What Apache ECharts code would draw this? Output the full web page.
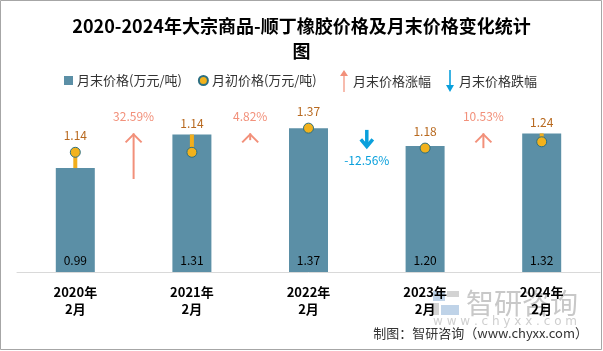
<!DOCTYPE html>
<html>
<head>
<meta charset="utf-8">
<script src="https://cdn.jsdelivr.net/npm/echarts@6/dist/echarts.min.js"></script>
<style>
  html, body { margin: 0; padding: 0; background: #fff; }
  #chartmain { width: 603px; height: 351px; }
</style>
</head>
<body>
<div id="chartmain"></div>
<script>
var categories = ['2020年\n2月', '2021年\n2月', '2022年\n2月', '2023年\n2月', '2024年\n2月'];
var endPrices = [0.99, 1.31, 1.37, 1.20, 1.32];     // 月末价格(万元/吨)
var startPrices = [1.14, 1.14, 1.37, 1.18, 1.24];   // 月初价格(万元/吨)
var changeRates = [32.59, 4.82, -12.56, 10.53];     // 月末价格涨跌幅(%), between year i and i+1

var FONT = '"Noto Sans CJK SC", "Microsoft YaHei", sans-serif';
var BAR_COLOR = '#5B8FA6';
var UP_COLOR = '#F2907A';
var DOWN_COLOR = '#0AA0DC';
var UP_ANCHOR = 99;     // pct axis level where rising arrows end
var DOWN_ANCHOR = 101.5; // pct axis level where falling arrows start

var upData = [];
var downData = [];
changeRates.forEach(function (r, i) {
    if (r >= 0) upData.push([i, r]); else downData.push([i, r]);
});
var dropData = startPrices.map(function (v, i) { return [i, v, endPrices[i]]; });

function midX(api, i) {
    return (api.coord([i, 0])[0] + api.coord([i + 1, 0])[0]) / 2;
}

function renderUp(params, api) {
    var i = api.value(0), r = api.value(1);
    var x = midX(api, i);
    var top = api.coord([i, UP_ANCHOR])[1];
    var bottom = api.coord([i, UP_ANCHOR - r])[1];
    var st = { stroke: UP_COLOR, lineWidth: 2, fill: null };
    return {
        type: 'group',
        children: [
            { type: 'line', shape: { x1: x, y1: bottom, x2: x, y2: top }, style: st },
            { type: 'polyline', shape: { points: [[x - 8, top + 9], [x, top + 1], [x + 8, top + 9]] }, style: st },
            { type: 'text', style: { text: r.toFixed(2) + '%', x: x, y: top - 17, align: 'center', verticalAlign: 'middle', fill: UP_COLOR, fontSize: 12, fontFamily: FONT } }
        ]
    };
}

function renderDown(params, api) {
    var i = api.value(0), r = api.value(1);
    var x = midX(api, i);
    var top = api.coord([i, DOWN_ANCHOR])[1];
    var tip = api.coord([i, DOWN_ANCHOR + r])[1];
    var st = { stroke: DOWN_COLOR, lineWidth: 3.5, fill: null };
    return {
        type: 'group',
        children: [
            { type: 'line', shape: { x1: x, y1: top, x2: x, y2: tip - 2 }, style: st },
            { type: 'polyline', shape: { points: [[x - 6, tip - 8], [x, tip - 1], [x + 6, tip - 8]] }, style: st },
            { type: 'text', style: { text: r.toFixed(2) + '%', x: x, y: tip + 13, align: 'center', verticalAlign: 'middle', fill: DOWN_COLOR, fontSize: 12, fontFamily: FONT } }
        ]
    };
}

// orange line from 月初 dot to bar top, with the 月初 value label above the higher end
function renderDrop(params, api) {
    var a = api.coord([api.value(0), api.value(1)]);
    var b = api.coord([api.value(0), api.value(2)]);
    var labelY = Math.min(a[1] - 17, b[1] - 11);
    return {
        type: 'group',
        children: [
            { type: 'line', shape: { x1: a[0], y1: a[1], x2: b[0], y2: b[1] }, style: { stroke: '#F2AE1C', lineWidth: 4 } },
            { type: 'text', z2: 10, style: { text: api.value(1).toFixed(2), x: a[0], y: labelY, align: 'center', verticalAlign: 'middle', fill: '#B8691F', fontSize: 12, fontFamily: FONT } }
        ]
    };
}

var chart = echarts.init(document.getElementById('chartmain'), null, { renderer: 'canvas', width: 603, height: 351 });

chart.setOption({
    animation: false,
    textStyle: { fontFamily: FONT },
    title: {
        text: '2020-2024年大宗商品-顺丁橡胶价格及月末价格变化统计\n图',
        left: 'center',
        top: 9,
        textStyle: { fontSize: 18, fontWeight: 'bold', color: '#000', lineHeight: 25, fontFamily: FONT }
    },
    legend: [{
        left: 59,
        top: 69,
        itemWidth: 9,
        itemHeight: 9,
        itemGap: 16,
        textStyle: { fontSize: 13, color: '#333', padding: [0, 0, 0, -1] },
        data: [
            { name: '月末价格(万元/吨)', icon: 'rect' },
            { name: '月初价格(万元/吨)', icon: 'circle' }
        ]
    }, {
        left: 335,
        top: 65,
        itemWidth: 8,
        itemHeight: 22,
        itemGap: 15,
        textStyle: { fontSize: 13, color: '#333' },
        data: [
            { name: '月末价格涨幅', icon: 'path://M4,0 L8,6 L4.6,6 L4.6,22 L3.4,22 L3.4,6 L0,6 Z' },
            { name: '月末价格跌幅', icon: 'path://M3.2,0 L4.8,0 L4.8,15 L8,15 L4,22 L0,15 L3.2,15 Z' }
        ]
    }],
    grid: { left: 17, right: 3, top: 62, bottom: 79, containLabel: false },
    xAxis: {
        type: 'category',
        data: categories,
        axisLine: { lineStyle: { color: '#D9D9D9', width: 1 } },
        axisTick: { show: false },
        axisLabel: { fontSize: 13, fontWeight: 'bold', color: '#000', lineHeight: 17, margin: 12 }
    },
    yAxis: [
        { type: 'value', min: 0, max: 2, show: false, splitLine: { show: false } },
        { type: 'value', min: 0, max: 150, show: false, splitLine: { show: false } }
    ],
    series: [{
        name: '月末价格(万元/吨)',
        type: 'bar',
        barWidth: 39,
        data: endPrices,
        itemStyle: { color: BAR_COLOR },
        label: {
            show: true,
            position: 'insideBottom',
            distance: 6,
            color: '#000',
            fontSize: 12,
            formatter: function (p) { return p.value.toFixed(2); }
        },
        z: 2
    }, {
        name: 'drop',
        type: 'custom',
        renderItem: renderDrop,
        data: dropData,
        z: 3
    }, {
        name: '月初价格(万元/吨)',
        type: 'scatter',
        data: startPrices,
        symbol: 'circle',
        symbolSize: 10,
        itemStyle: { color: '#F2B21C', borderColor: '#2C6F82', borderWidth: 1, opacity: 1 },
        z: 4
    }, {
        name: '月末价格涨幅',
        type: 'custom',
        yAxisIndex: 1,
        renderItem: renderUp,
        itemStyle: { color: UP_COLOR },
        data: upData,
        z: 5
    }, {
        name: '月末价格跌幅',
        type: 'custom',
        yAxisIndex: 1,
        renderItem: renderDown,
        itemStyle: { color: DOWN_COLOR },
        data: downData,
        z: 5
    }],
    graphic: [
        // outer frame
        { type: 'rect', shape: { x: 0.5, y: 0.5, width: 601, height: 349 }, style: { fill: null, stroke: '#A6A6A6', lineWidth: 1 }, silent: true, z: 100 },
        // watermark logo
        { type: 'group', left: 433, top: 291, silent: true, z: 0, children: [
            { type: 'rect', shape: { x: 0, y: 0, width: 12, height: 10 }, style: { fill: '#BFD3E8' } },
            { type: 'rect', shape: { x: 14, y: 0, width: 12, height: 6 }, style: { fill: '#D3D3D3' } },
            { type: 'rect', shape: { x: 0, y: 12, width: 6, height: 12 }, style: { fill: '#D3D3D3' } },
            { type: 'rect', shape: { x: 8, y: 14, width: 18, height: 10 }, style: { fill: '#BFD3E8' } }
        ] },
        { type: 'text', left: 466, top: 289, silent: true, z: 0,
          style: { text: '智研咨询', fill: '#C8C8C8', fontSize: 28, fontFamily: FONT } },
        { type: 'text', left: 433, top: 316, silent: true, z: 0,
          style: { text: 'w w w . c h y x x . c o m', fill: '#CFCFCF', fontSize: 12, fontFamily: 'DejaVu Sans' } },
        { type: 'text', right: 15, top: 327, silent: true, z: 10,
          style: { text: '制图：智研咨询（www.chyxx.com）', fill: '#333', fontSize: 13, fontFamily: FONT } }
    ]
});
</script>
</body>
</html>
